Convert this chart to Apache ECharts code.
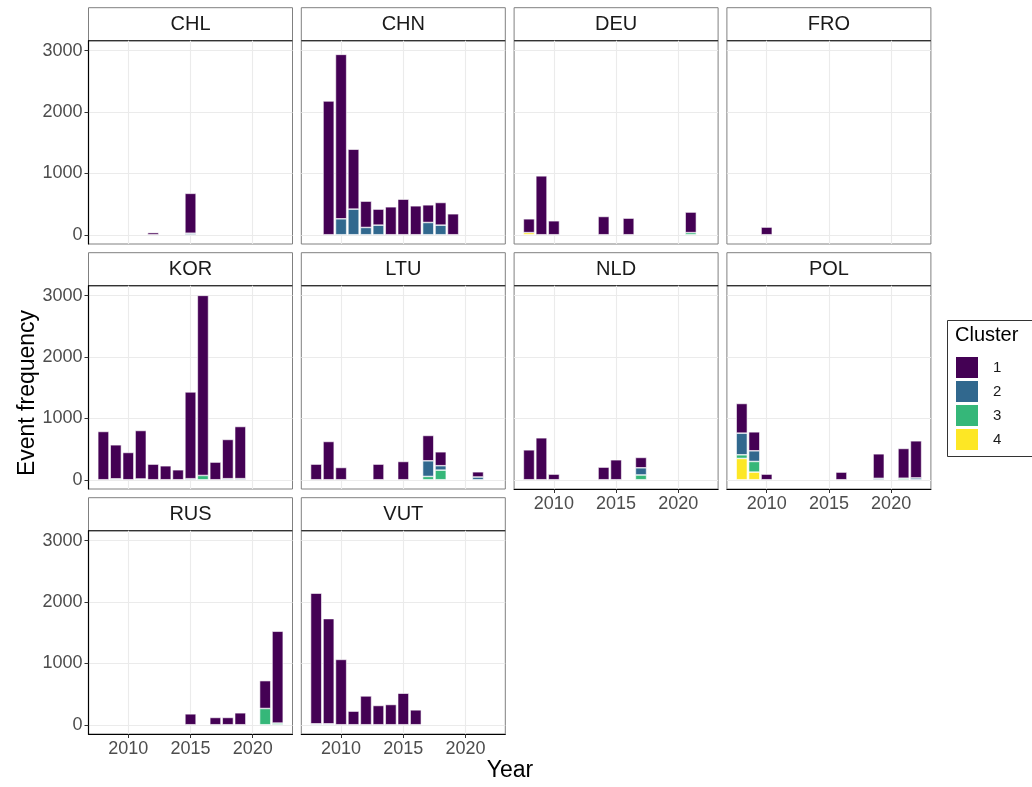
<!DOCTYPE html>
<html>
<head>
<meta charset="utf-8">
<script src="https://cdn.jsdelivr.net/npm/echarts@6/dist/echarts.min.js"></script>
<style>
  html, body { margin: 0; padding: 0; background: #ffffff; }
  #chart { width: 1032px; height: 787px; }
</style>
</head>
<body>
<div id="chart"></div>
<script>
// Years on the x axis and the facet order
const years = [2008, 2009, 2010, 2011, 2012, 2013, 2014, 2015, 2016, 2017, 2018, 2019, 2020, 2021, 2022];
const countries = ['CHL', 'CHN', 'DEU', 'FRO', 'KOR', 'LTU', 'NLD', 'POL', 'RUS', 'VUT'];
const clusterNames = ['1', '2', '3', '4'];
const clusterColors = ['#440154', '#31688E', '#35B779', '#FDE725'];
const yTicks = [0, 1000, 2000, 3000];
const xTicks = [2010, 2015, 2020];

// Event counts per country: one row per cluster (1..4), one column per year
const CHL = [
  [0, 0, 0, 0, 35, 0, 0, 650, 0, 0, 0, 0, 0, 0, 0],
  [0, 0, 0, 0, 0, 0, 0, 25, 0, 0, 0, 0, 0, 0, 0],
  [0, 0, 0, 0, 0, 0, 0, 0, 0, 0, 0, 0, 0, 0, 0],
  [0, 0, 0, 0, 0, 0, 0, 0, 0, 0, 0, 0, 0, 0, 0]
];
const CHN = [
  [0, 2180, 2680, 976, 429, 261, 456, 580, 472, 288, 369, 342, 0, 0, 0],
  [0, 0, 260, 418, 119, 157, 0, 0, 0, 200, 157, 0, 0, 0, 0],
  [0, 0, 0, 0, 0, 0, 0, 0, 0, 0, 0, 0, 0, 0, 0],
  [0, 0, 0, 0, 0, 0, 0, 0, 0, 0, 0, 0, 0, 0, 0]
];
const DEU = [
  [225, 960, 228, 0, 0, 0, 298, 0, 271, 0, 0, 0, 0, 335, 0],
  [0, 0, 0, 0, 0, 0, 0, 0, 0, 0, 0, 0, 0, 0, 0],
  [0, 0, 0, 0, 0, 0, 0, 0, 0, 0, 0, 0, 0, 35, 0],
  [35, 0, 0, 0, 0, 0, 0, 0, 0, 0, 0, 0, 0, 0, 0]
];
const FRO = [
  [0, 0, 125, 0, 0, 0, 0, 0, 0, 0, 0, 0, 0, 0, 0],
  [0, 0, 0, 0, 0, 0, 0, 0, 0, 0, 0, 0, 0, 0, 0],
  [0, 0, 0, 0, 0, 0, 0, 0, 0, 0, 0, 0, 0, 0, 0],
  [0, 0, 0, 0, 0, 0, 0, 0, 0, 0, 0, 0, 0, 0, 0]
];
const KOR = [
  [787, 555, 445, 790, 255, 228, 163, 1415, 2935, 288, 640, 850, 0, 0, 0],
  [0, 15, 0, 0, 0, 0, 0, 17, 0, 0, 17, 18, 0, 0, 0],
  [0, 0, 0, 13, 0, 0, 0, 0, 70, 0, 0, 0, 0, 0, 0],
  [0, 0, 0, 0, 0, 0, 0, 0, 0, 0, 0, 0, 0, 0, 0]
];
const LTU = [
  [255, 624, 200, 0, 0, 255, 0, 298, 0, 413, 227, 0, 0, 85, 0],
  [0, 0, 0, 0, 0, 0, 0, 0, 0, 255, 72, 0, 0, 45, 0],
  [0, 0, 0, 0, 0, 0, 0, 0, 0, 54, 157, 0, 0, 0, 0],
  [0, 0, 0, 0, 0, 0, 0, 0, 0, 0, 0, 0, 0, 0, 0]
];
const NLD = [
  [488, 684, 92, 0, 0, 0, 206, 326, 0, 169, 0, 0, 0, 0, 0],
  [0, 0, 0, 0, 0, 0, 0, 0, 0, 117, 0, 0, 0, 0, 0],
  [0, 0, 0, 0, 0, 0, 0, 0, 0, 78, 0, 0, 0, 0, 0],
  [0, 0, 0, 0, 0, 0, 0, 0, 0, 0, 0, 0, 0, 0, 0]
];
const POL = [
  [483, 309, 92, 0, 0, 0, 0, 0, 125, 0, 0, 400, 0, 485, 605],
  [353, 174, 0, 0, 0, 0, 0, 0, 0, 0, 0, 23, 0, 0, 30],
  [60, 173, 0, 0, 0, 0, 0, 0, 0, 0, 0, 0, 0, 25, 0],
  [347, 125, 0, 0, 0, 0, 0, 0, 0, 0, 0, 0, 0, 0, 0]
];
const RUS = [
  [0, 0, 0, 0, 0, 0, 0, 178, 0, 119, 119, 195, 0, 454, 1497],
  [0, 0, 0, 0, 0, 0, 0, 0, 0, 0, 0, 0, 0, 0, 0],
  [0, 0, 0, 0, 0, 0, 0, 0, 0, 0, 0, 0, 0, 265, 27],
  [0, 0, 0, 0, 0, 0, 0, 0, 0, 0, 0, 0, 0, 0, 0]
];
const VUT = [
  [2130, 1715, 1065, 222, 470, 314, 330, 514, 243, 0, 0, 0, 0, 0, 0],
  [15, 15, 0, 0, 0, 0, 0, 0, 0, 0, 0, 0, 0, 0, 0],
  [0, 0, 0, 0, 0, 0, 0, 0, 0, 0, 0, 0, 0, 0, 0],
  [0, 0, 0, 0, 0, 0, 0, 0, 0, 0, 0, 0, 0, 0, 0]
];
const countsByCountry = [CHL, CHN, DEU, FRO, KOR, LTU, NLD, POL, RUS, VUT];

// Facet geometry (4 columns, strips above each panel)
const FONT = '"Liberation Sans", Arial, Helvetica, sans-serif';
const nCols = 4;
const left0 = 88.5, top0 = 40.7, colStep = 212.8, rowStep = 245;
const panelW = 204, panelH = 203.3, stripH = 33;
// Axis limits include a 5% padding around the bar extents
const xMin = 2006.805, xMax = 2023.195;
const yMin = -150.6, yMax = 3162.6;
const barW = 0.9 * panelW / (xMax - xMin);
const plainNumber = function (v) { return String(v); };

const grids = [], xAxes = [], yAxes = [], series = [], graphics = [];

countries.forEach(function (name, i) {
  const col = i % nCols, row = Math.floor(i / nCols);
  const left = left0 + col * colStep;
  const top = top0 + row * rowStep;
  const hasXAxis = i + nCols >= countries.length;
  const hasYAxis = col === 0;

  grids.push({
    left: left, top: top, width: panelW, height: panelH,
    show: true, backgroundColor: '#ffffff',
    borderColor: '#808080', borderWidth: 1
  });

  xAxes.push({
    type: 'value', gridIndex: i, min: xMin, max: xMax,
    axisLine: { show: hasXAxis, onZero: false, lineStyle: { color: '#000000', width: 1.2 } },
    axisTick: { show: hasXAxis, customValues: xTicks, length: 4, lineStyle: { color: '#333333', width: 1 } },
    axisLabel: { show: hasXAxis, customValues: xTicks, formatter: plainNumber, margin: 6, fontSize: 18, color: '#4d4d4d', fontFamily: FONT },
    splitLine: { show: true, lineStyle: { color: '#ebebeb', width: 1.1 } }
  });

  yAxes.push({
    type: 'value', gridIndex: i, min: yMin, max: yMax,
    axisLine: { show: hasYAxis, onZero: false, lineStyle: { color: '#000000', width: 1.2 } },
    axisTick: { show: hasYAxis, customValues: yTicks, length: 4, lineStyle: { color: '#333333', width: 1 } },
    axisLabel: { show: hasYAxis, customValues: yTicks, formatter: plainNumber, margin: 6, fontSize: 18, color: '#4d4d4d', fontFamily: FONT },
    splitLine: { show: true, lineStyle: { color: '#ebebeb', width: 1.1 } }
  });

  // Stack from cluster 4 at the bottom up to cluster 1 on top.
  // Rows are [count, year] so the count is the stacked dimension.
  const counts = countsByCountry[i];
  for (let c = clusterNames.length - 1; c >= 0; c--) {
    series.push({
      type: 'bar',
      name: clusterNames[c],
      xAxisIndex: i, yAxisIndex: i,
      stack: 'facet' + i,
      barWidth: barW,
      encode: { x: 1, y: 0 },
      itemStyle: { color: clusterColors[c], borderColor: '#ffffff', borderWidth: 0.6 },
      data: years.map(function (y, k) { return [counts[c][k] > 0 ? counts[c][k] : '-', y]; })
    });
  }

  // Facet strip with its label
  graphics.push({
    type: 'rect', silent: true,
    shape: { x: left, y: top - stripH, width: panelW, height: stripH },
    style: { fill: '#ffffff', stroke: '#808080', lineWidth: 1 }
  });
  graphics.push({
    type: 'line', silent: true,
    shape: { x1: left, y1: top, x2: left + panelW, y2: top },
    style: { stroke: '#333333', lineWidth: 1.2 }
  });
  graphics.push({
    type: 'text', silent: true,
    x: left + panelW / 2, y: top - stripH / 2,
    style: { text: name, font: '20px ' + FONT, fill: '#1a1a1a', align: 'center', verticalAlign: 'middle' }
  });
});

// Axis titles
graphics.push({
  type: 'text', silent: true, x: 510, y: 771,
  style: { text: 'Year', font: '23px ' + FONT, fill: '#000000', align: 'center', verticalAlign: 'middle' }
});
graphics.push({
  type: 'text', silent: true, x: 28, y: 393, rotation: Math.PI / 2,
  style: { text: 'Event frequency', font: '23px ' + FONT, fill: '#000000', align: 'center', verticalAlign: 'middle' }
});

// Legend frame and title
graphics.push({
  type: 'rect', silent: true,
  shape: { x: 947.5, y: 320.5, width: 100, height: 136 },
  style: { fill: '#ffffff', stroke: '#333333', lineWidth: 1 }
});
graphics.push({
  type: 'text', silent: true, x: 955, y: 335,
  style: { text: 'Cluster', font: '20px ' + FONT, fill: '#000000', align: 'left', verticalAlign: 'middle' }
});

const chart = echarts.init(document.getElementById('chart'), null, { renderer: 'canvas' });
chart.setOption({
  animation: false,
  backgroundColor: '#ffffff',
  grid: grids,
  xAxis: xAxes,
  yAxis: yAxes,
  series: series,
  legend: {
    data: clusterNames,
    orient: 'vertical',
    left: 956, top: 357,
    padding: 0,
    itemWidth: 22, itemHeight: 21, itemGap: 3,
    icon: 'rect',
    itemStyle: { borderWidth: 0 },
    textStyle: { fontSize: 15, color: '#1a1a1a', fontFamily: FONT, padding: [0, 0, 0, 10] },
    selectedMode: false,
    z: 10
  },
  graphic: { elements: graphics }
});
</script>
</body>
</html>
